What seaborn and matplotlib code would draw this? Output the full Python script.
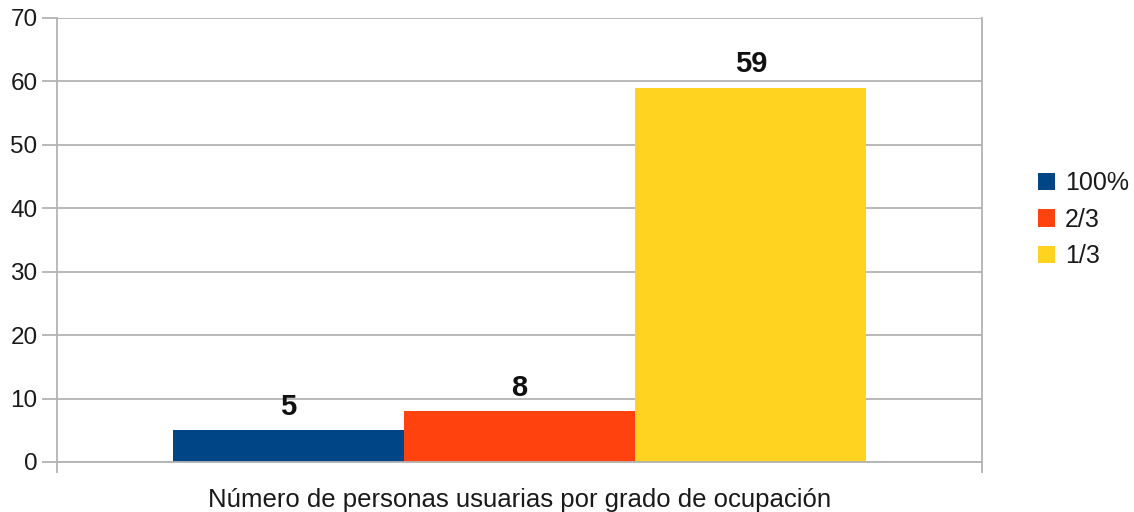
import matplotlib
matplotlib.use('Agg')
import matplotlib.pyplot as plt
import pandas as pd
import seaborn as sns

# datos
grupo = ["Número de personas usuarias por grado de ocupación"]
grados = ["100%", "2/3", "1/3"]
personas = [5, 8, 59]
colores = ["#004586", "#ff420e", "#ffd320"]

df = pd.DataFrame({
    "grupo": grupo * len(grados),
    "grado": grados,
    "personas": personas,
})

sns.set_style("white")
plt.rcParams['font.family'] = ['Liberation Sans', 'DejaVu Sans']

gris = "#b3b3b3"
fig = plt.figure(figsize=(11.34, 5.12), dpi=100)
ax = fig.add_axes([0.0503, 0.0977, 0.8157, 0.8673])

sns.barplot(data=df, x="grupo", y="personas", hue="grado", hue_order=grados,
            palette=colores, width=0.75, saturation=1, ax=ax, linewidth=0)

# etiquetas de valor
for cont in ax.containers:
    ax.bar_label(cont, fmt="%d", padding=7, fontsize=21, fontweight="bold",
                 color="#111111")

ax.set_ylim(0, 70)
ax.set_xlim(-0.5, 0.5)
ax.set_yticks(range(0, 71, 10))
ax.set_xticks([-0.5, 0.5])
ax.set_xticklabels(["", ""])
ax.set_ylabel("")
ax.set_xlabel(grupo[0], fontsize=18.5, labelpad=7, color="#1a1a1a")
ax.yaxis.grid(True, color=gris, linewidth=1.3)
ax.set_axisbelow(True)
ax.tick_params(axis="y", length=11, width=1.3, color=gris, labelsize=17.5,
               labelcolor="#1a1a1a", pad=3, left=True)
ax.tick_params(axis="x", length=8, width=1.3, color=gris, bottom=True)
for s in ["left", "right", "bottom"]:
    ax.spines[s].set_color(gris)
    ax.spines[s].set_linewidth(1.3)
ax.spines["top"].set_visible(False)

ax.legend(loc="center left", bbox_to_anchor=(1.06, 0.545), frameon=False,
          fontsize=18, handlelength=0.7, handleheight=0.7, handletextpad=0.4,
          labelspacing=0.5, labelcolor="#1a1a1a", borderaxespad=0, borderpad=0)

plt.savefig("out.png", dpi=100)
